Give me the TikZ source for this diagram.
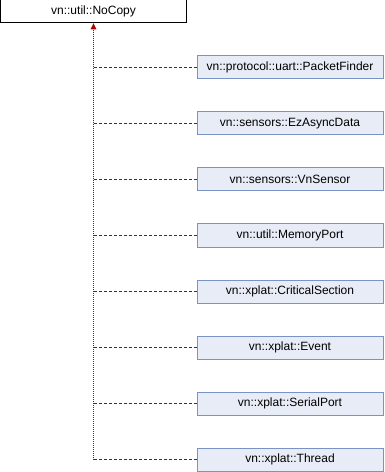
\documentclass[tikz,border=0pt]{standalone}
\usepackage{fontspec}
\setmainfont{Liberation Sans}
\usetikzlibrary{arrows.meta}
\definecolor{edgered}{RGB}{170,0,0}
\definecolor{boxfill}{HTML}{E8ECF6}
\definecolor{boxline}{HTML}{7A93C6}
\begin{document}
\begin{tikzpicture}[x=1bp,y=-1bp,
  base/.style={draw=black,fill=white,line width=1bp,minimum width=186bp,minimum height=23bp,inner sep=0pt,font=\fontsize{12bp}{14bp}\selectfont},
  child/.style={draw=boxline,fill=boxfill,line width=1bp,minimum width=186bp,minimum height=23bp,inner sep=0pt,font=\fontsize{12bp}{14bp}\selectfont},
  trunk/.style={draw=edgered,line width=1bp,dash pattern=on 1bp off 1bp},
  branch/.style={draw=edgered,line width=1bp,dash pattern=on 3bp off 2bp}]
\useasboundingbox (0,0) rectangle (384,472);
\node[base] (root) at (93.5,11.5) {vn::util::NoCopy};
\node[child] (c1) at (290,67.5) {vn::protocol::uart::PacketFinder};
\node[child] (c2) at (290,123.5) {vn::sensors::EzAsyncData};
\node[child] (c3) at (290,179.5) {vn::sensors::VnSensor};
\node[child] (c4) at (290,235.5) {vn::util::MemoryPort};
\node[child] (c5) at (290,291.5) {vn::xplat::CriticalSection};
\node[child] (c6) at (290,347.5) {vn::xplat::Event};
\node[child] (c7) at (290,403.5) {vn::xplat::SerialPort};
\node[child] (c8) at (290,459.5) {vn::xplat::Thread};
\foreach \i in {1,...,8} {
  \coordinate (j\i) at (93.5,0 |- c\i.west);
  \draw[branch] (c\i.west) -- (j\i);
}
\draw[trunk] (j8) -- (root.south);
\fill[edgered] (root.south) -- ++(-3,6) -- ++(6,0) -- cycle;
\end{tikzpicture}
\end{document}
